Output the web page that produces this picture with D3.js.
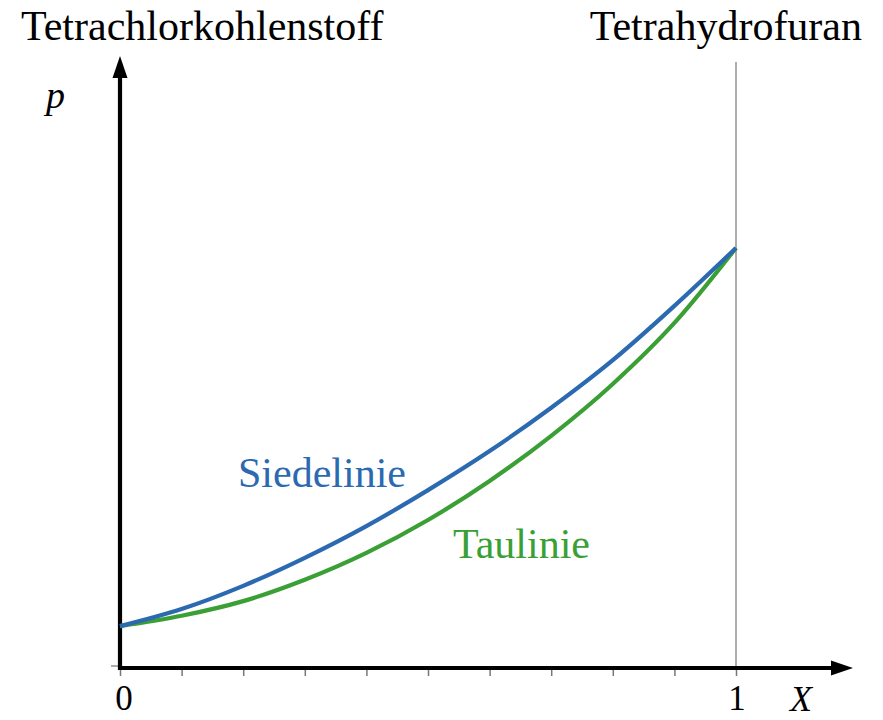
<!DOCTYPE html>
<html>
<head>
<meta charset="utf-8">
<script src="https://cdn.jsdelivr.net/npm/d3@7"></script>
<style>
  html, body { margin: 0; padding: 0; background: #fff; }
  svg { display: block; }
  text { font-family: "Liberation Serif", "Times New Roman", "DejaVu Serif", serif; }
</style>
</head>
<body>
<svg id="chart" width="883" height="720"></svg>
<script>
// Mole fraction of tetrahydrofuran
const moleFraction = [0, 0.1, 0.2, 0.3, 0.4, 0.5, 0.6, 0.7, 0.8, 0.9, 1.0];
// Pressure (arbitrary units) along the bubble line and the dew line
const siedelinie = [6.7, 9.5, 13.3, 17.9, 23.1, 29.0, 35.4, 42.5, 50.3, 59.2, 68.7];
const taulinie   = [6.7, 8.4, 10.8, 14.3, 18.7, 24.1, 30.5, 37.9, 46.4, 56.4, 68.7];
// Axis ticks and the labels printed under them
const xTicks = [0, 0.1, 0.2, 0.3, 0.4, 0.5, 0.6, 0.7, 0.8, 0.9, 1.0];
const xTickLabels = [{ v: 0, t: "0" }, { v: 1, t: "1" }];
const componentNames = ["Tetrachlorkohlenstoff", "Tetrahydrofuran"];

const svg = d3.select("#chart");

const x = d3.scaleLinear().domain([0, 1]).range([120, 736]);
const y = d3.scaleLinear().domain([0, 100]).range([667, 57]);

const x0 = x(0), y0 = y(0);

// Thin vertical line at pure tetrahydrofuran
svg.append("line")
  .attr("x1", x(1)).attr("x2", x(1))
  .attr("y1", 62).attr("y2", y0)
  .attr("stroke", "#8c8c8c").attr("stroke-width", 1.4);

// Ticks below the x axis
const xAxis = d3.axisBottom(x).tickValues(xTicks).tickSize(8).tickFormat("");
const gx = svg.append("g").attr("transform", `translate(0,${y0 + 1})`).call(xAxis);
gx.select(".domain").remove();
gx.selectAll(".tick line").attr("stroke", "#777").attr("stroke-width", 1.5);

// Small tick at the origin on the p axis
svg.append("line")
  .attr("x1", x0 - 9).attr("x2", x0)
  .attr("y1", y0 - 1).attr("y2", y0 - 1)
  .attr("stroke", "#777").attr("stroke-width", 1.2);

// Axis lines with arrowheads
svg.append("line")
  .attr("x1", x0 - 2).attr("x2", 836)
  .attr("y1", y0 + 1).attr("y2", y0 + 1)
  .attr("stroke", "#000").attr("stroke-width", 4.2);
svg.append("path")
  .attr("d", `M853,${y0 + 1} L831,${y0 - 6.5} L831,${y0 + 8.5} Z`)
  .attr("fill", "#000");

svg.append("line")
  .attr("x1", x0).attr("x2", x0)
  .attr("y1", y0 + 3).attr("y2", 76)
  .attr("stroke", "#000").attr("stroke-width", 4.2);
svg.append("path")
  .attr("d", `M${x0},56 L${x0 - 7.5},78 L${x0 + 7.5},78 Z`)
  .attr("fill", "#000");

// Bubble and dew curves
const line = d3.line()
  .x((d, i) => x(moleFraction[i]))
  .y(d => y(d))
  .curve(d3.curveMonotoneX);

svg.append("path")
  .datum(taulinie)
  .attr("d", line)
  .attr("fill", "none")
  .attr("stroke", "#3a9f35")
  .attr("stroke-width", 4.2);

svg.append("path")
  .datum(siedelinie)
  .attr("d", line)
  .attr("fill", "none")
  .attr("stroke", "#2b69b0")
  .attr("stroke-width", 4.2);

// Curve labels
svg.append("text")
  .attr("x", 238).attr("y", 487)
  .attr("font-size", 42).attr("fill", "#2b69b0")
  .text("Siedelinie");
svg.append("text")
  .attr("x", 453).attr("y", 558)
  .attr("font-size", 42).attr("fill", "#3a9f35")
  .text("Taulinie");

// Component names above the ends of the axis
svg.append("text")
  .attr("x", 21).attr("y", 40)
  .attr("font-size", 42).attr("fill", "#000")
  .text(componentNames[0]);
svg.append("text")
  .attr("x", 862).attr("y", 40)
  .attr("text-anchor", "end")
  .attr("font-size", 42).attr("fill", "#000")
  .text(componentNames[1]);

// Axis titles
svg.append("text")
  .attr("x", 46).attr("y", 108)
  .attr("font-size", 38).attr("font-style", "italic")
  .text("p");
svg.append("text")
  .attr("x", 801).attr("y", 711)
  .attr("text-anchor", "middle")
  .attr("font-size", 36).attr("font-style", "italic")
  .text("X");

// Tick labels
svg.selectAll("text.tick-label")
  .data(xTickLabels)
  .join("text")
  .attr("class", "tick-label")
  .attr("x", d => x(d.v) + (d.v === 0 ? 4 : 1))
  .attr("y", 710)
  .attr("text-anchor", "middle")
  .attr("font-size", 35)
  .text(d => d.t);
</script>
</body>
</html>
